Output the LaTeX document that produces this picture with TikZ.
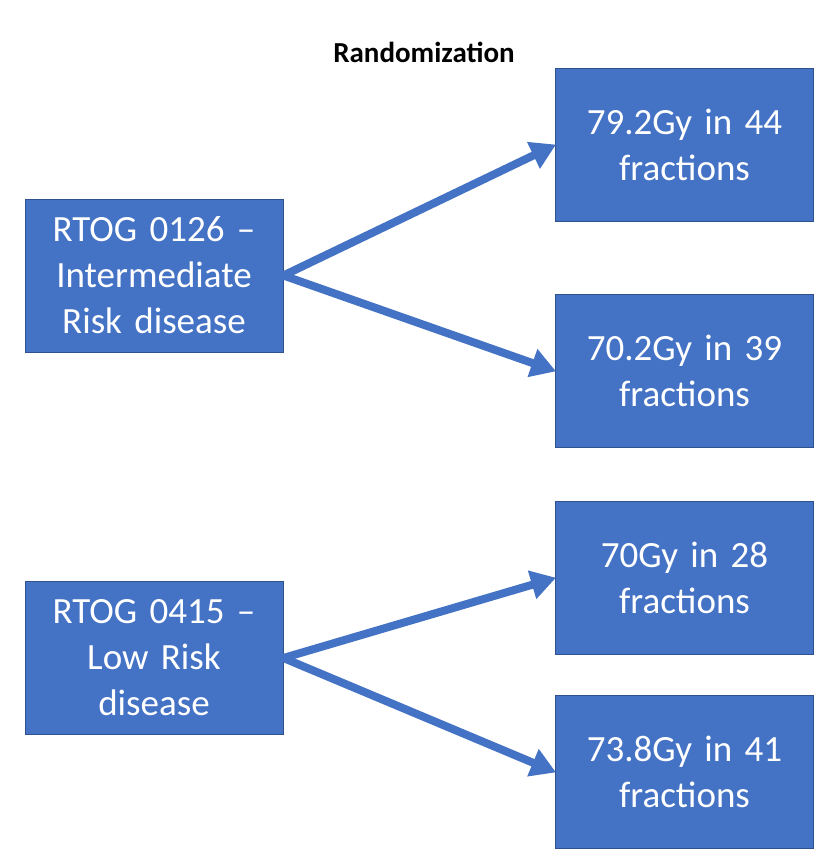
\documentclass[tikz,border=0pt]{standalone}
\usepackage{fontspec}
\setmainfont{Carlito}
\usetikzlibrary{arrows.meta, positioning}
\definecolor{boxblue}{HTML}{4472C4}
\definecolor{boxedge}{HTML}{2F528F}

\tikzset{
  armbox/.style={fill=boxblue, draw=boxedge, line width=0.8pt, text=white,
    minimum width=258, minimum height=153, inner sep=0pt,
    text width=240pt, align=center, font=\fontsize{37}{46}\selectfont},
  randarrow/.style={draw=boxblue, line width=8pt,
    -{Triangle[length=25pt, width=28pt]}, shorten >=-1pt}
}

\begin{document}
\begin{tikzpicture}[x=1pt, y=-1pt]
  \useasboundingbox[fill=white] (0,0) rectangle (830,864);

  \node[font=\fontsize{29}{34}\selectfont\bfseries] (title) at (424,52) {Randomization};

  % studies
  \node[armbox] (rtog0126) at (154,275.5) {RTOG 0126 --\\Intermediate\\Risk disease};
  \node[armbox] (rtog0415) at (154,658) {RTOG 0415 --\\Low Risk\\disease};

  % dose arms
  \foreach \n/\y/\t in {
    a/145/{79.2Gy in 44\\fractions},
    b/371/{70.2Gy in 39\\fractions},
    c/578/{70Gy in 28\\fractions},
    d/772/{73.8Gy in 41\\fractions}
  } {
    \node[armbox] (arm\n) at (684.5,\y) {\t};
  }

  \draw[randarrow] (rtog0126.east) -- (arma.west);
  \draw[randarrow] (rtog0126.east) -- (armb.west);
  \draw[randarrow] (rtog0415.east) -- (armc.west);
  \draw[randarrow] (rtog0415.east) -- (armd.west);
\end{tikzpicture}
\end{document}
